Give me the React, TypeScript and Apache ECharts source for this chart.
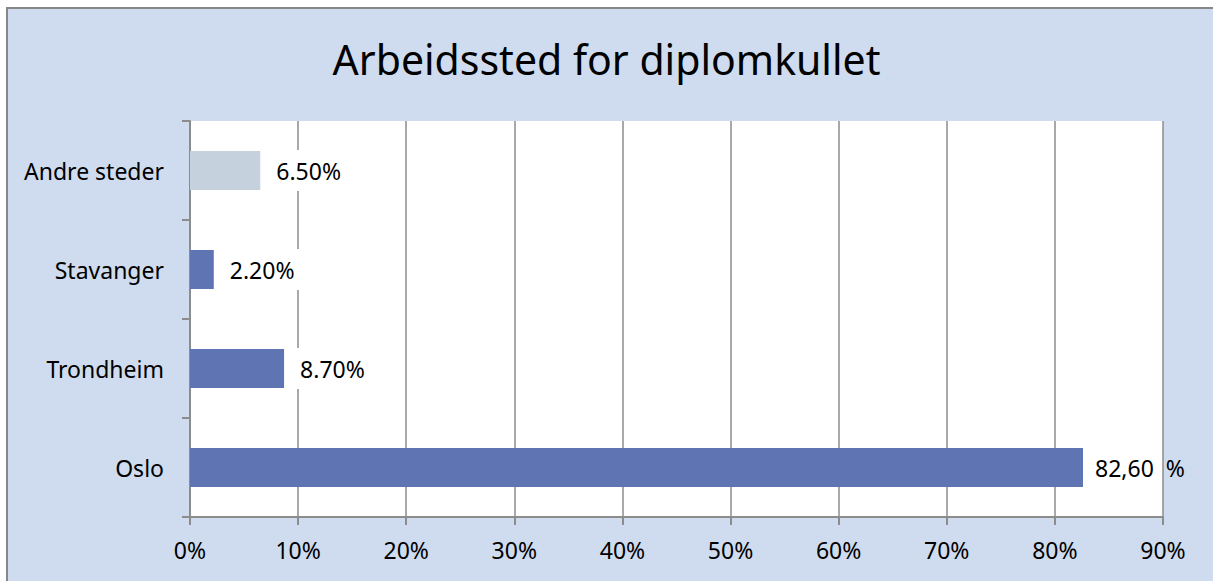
import React, { useEffect, useRef } from "react";
import * as echarts from "echarts";

const categories = ["Oslo", "Trondheim", "Stavanger", "Andre steder"];
const values = [82.6, 8.7, 2.2, 6.5];
const valueLabels = ["82,60 %", "8.70%", "2.20%", "6.50%"];
const barColors = ["#5F75B3", "#5F75B3", "#5F75B3", "#C6D1DE"];
const xTicks = [0, 10, 20, 30, 40, 50, 60, 70, 80, 90];

const FONT = "'Noto Sans', sans-serif";
const FS = 23;

export default function App() {
  const ref = useRef<HTMLDivElement>(null);
  useEffect(() => {
    document.body.style.margin = "0";
    const chart = echarts.init(ref.current!, null, { renderer: "svg" });
    const option = {
      animation: false,
      backgroundColor: "#ffffff",
      textStyle: { fontFamily: FONT },
      graphic: [
        {
          type: "rect",
          z: -10,
          silent: true,
          shape: { x: 7, y: 8, width: 1300, height: 700 },
          style: { fill: "#CFDCEF", stroke: "#878787", lineWidth: 2 },
        },
      ],
      title: {
        text: "Arbeidssted for diplomkullet",
        left: "center",
        top: 33,
        textStyle: { fontFamily: FONT, fontSize: 41, fontWeight: "normal", color: "#000" },
      },
      grid: { left: 190, right: 50, top: 121, bottom: 64, backgroundColor: "#ffffff", show: true, borderWidth: 0 },
      xAxis: {
        type: "value",
        min: 0,
        max: 90,
        interval: 10,
        axisLine: { show: true, lineStyle: { color: "#8C8C8C", width: 2 } },
        axisTick: { show: true, length: 8, lineStyle: { color: "#8C8C8C", width: 2 } },
        splitLine: { show: true, lineStyle: { color: "#8C8C8C", width: 1.5 } },
        axisLabel: {
          formatter: (v: number) => (xTicks.includes(v) ? v + "%" : ""),
          fontSize: FS,
          color: "#000",
          margin: 21,
          fontFamily: FONT,
        },
      },
      yAxis: {
        type: "category",
        data: categories,
        axisLine: { show: true, lineStyle: { color: "#8C8C8C", width: 2 } },
        axisTick: { show: true, length: 8, lineStyle: { color: "#8C8C8C", width: 2 } },
        axisLabel: { fontSize: FS, color: "#000", margin: 26, fontFamily: FONT },
      },
      series: [
        {
          type: "bar",
          barWidth: 39,
          data: values.map((v, i) => ({
            value: v,
            itemStyle: { color: barColors[i] },
            label: {
              show: true,
              position: "right",
              distance: i === 0 ? 6 : 10,
              formatter: i === 0 ? "{a|82,60}{b| %}" : "{a|" + valueLabels[i] + "}",
              rich: {
                a: { backgroundColor: "#ffffff", padding: [9, 6], fontSize: FS, color: "#000", fontFamily: FONT },
                b: { fontSize: FS, color: "#000", fontFamily: FONT },
              },
            },
          })),
        },
      ],
    };
    chart.setOption(option);
    return () => chart.dispose();
  }, []);
  return <div ref={ref} style={{ position: "fixed", left: 0, top: 0, width: 1213, height: 581 }} />;
}
